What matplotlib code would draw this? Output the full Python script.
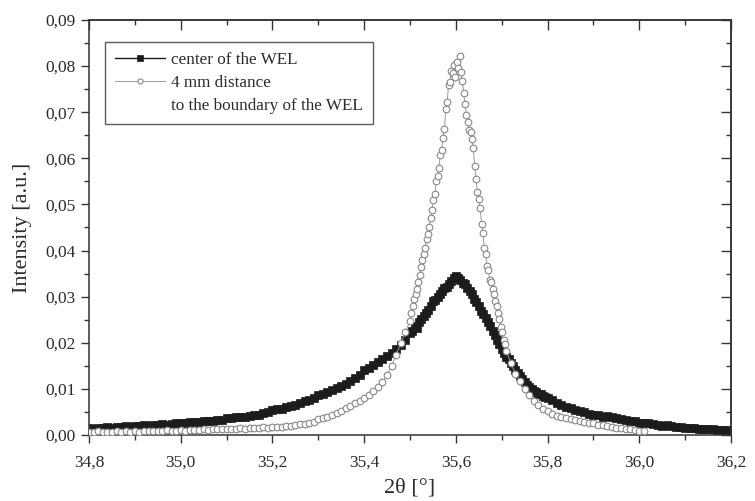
import numpy as np
import matplotlib
matplotlib.use("Agg")
import matplotlib.pyplot as plt
from matplotlib.ticker import MultipleLocator, FuncFormatter
from matplotlib.lines import Line2D

# ---------------- data (intensity values in units of 1e-4 a.u.) ----------------
# series 1: center of the WEL, sampled on three regular 2theta segments
center_seg = [(34.80, 0.01, 71), (35.505, 0.005, 60), (35.81, 0.01, 40)]
center_y = [
    15, 14, 16, 15, 17, 16, 18, 17, 19, 18,
    20, 19, 21, 20, 22, 21, 23, 22, 24, 25,
    27, 26, 28, 29, 28, 30, 31, 30, 33, 32,
    37, 36, 38, 40, 39, 42, 44, 43, 47, 49,
    54, 56, 57, 60, 63, 66, 69, 73, 76, 80,
    86, 89, 93, 97, 101, 106, 111, 117, 123, 131,
    140, 146, 151, 158, 164, 171, 178, 187, 196, 207,
    222,
    226, 236, 233, 246, 252, 258, 264, 271, 280, 290,
    292, 300, 306, 312, 318, 322, 328, 333, 340, 344,
    340, 336, 330, 327, 318, 312, 305, 296, 288, 279,
    270, 262, 253, 245, 236, 226, 216, 207, 197, 186,
    178, 170, 164, 156, 149, 141, 134, 127, 121, 114,
    108, 104, 100, 96, 93, 90, 88, 85, 82, 80,
    75, 70, 64, 61, 58, 55, 52, 50, 46, 44,
    43, 40, 41, 38, 36, 35, 33, 31, 30, 27,
    27, 25, 24, 22, 20, 21, 19, 17, 18, 16,
    15, 15, 13, 14, 12, 12, 11, 10, 10, 9,
]

# series 2: 4 mm distance to the boundary of the WEL
boundary_seg = [(34.80, 0.01, 71), (35.503, 0.003, 70), (35.72, 0.01, 30)]
boundary_y = [
    7, 6, 8, 7, 7, 6, 8, 7, 8, 7,
    8, 7, 9, 8, 8, 9, 8, 10, 9, 9,
    10, 9, 11, 10, 11, 12, 11, 12, 13, 12,
    13, 14, 13, 15, 14, 15, 16, 15, 17, 16,
    17, 18, 18, 20, 19, 22, 23, 24, 26, 29,
    34, 37, 40, 44, 48, 53, 58, 63, 69, 74,
    80, 87, 95, 104, 114, 130, 150, 174, 199, 224,
    248,
    265, 280, 294, 305, 316, 331, 346, 364, 380, 392,
    405, 425, 436, 452, 470, 487, 510, 522, 550, 561,
    580, 608, 618, 645, 663, 706, 722, 758, 765, 790,
    785, 802, 776, 810, 796, 822, 787, 768, 742, 718,
    694, 679, 661, 657, 641, 622, 583, 556, 527, 512,
    493, 457, 438, 406, 392, 366, 357, 336, 331, 316,
    305, 291, 280, 264, 252, 234, 224, 206, 197, 183,
    156, 133, 117, 99, 86, 74, 65, 57, 51, 46,
    42, 39, 37, 34, 32, 31, 29, 27, 25, 22,
    21, 19, 17, 16, 15, 13, 12, 11, 9, 8,
]

labels = ["center of the WEL", "4 mm distance", "to the boundary of the WEL"]
x_label = "2\u03b8 [\u00b0]"
y_label = "Intensity [a.u.]"


def grid(segs):
    return np.concatenate([s + d * np.arange(n) for s, d, n in segs])


cx = grid(center_seg)
cy = np.array(center_y) * 1e-4
bx = grid(boundary_seg)
by = np.array(boundary_y) * 1e-4

# ---------------- figure ----------------
plt.rcParams['font.family'] = ['Liberation Serif', 'DejaVu Serif']
txt = '#2b2b2b'
fig = plt.figure(figsize=(7.55, 5.01), dpi=100)
ax = fig.add_axes([89 / 755, 1 - 435 / 501, (731 - 89) / 755, (435 - 20) / 501])

l1, = ax.plot(cx, cy, '-', color='#1c1c1c', lw=1.0, marker='s', ms=5.6,
              mfc='#1c1c1c', mec='#1c1c1c', mew=0.5, zorder=2)
l2, = ax.plot(bx, by, '-', color='#9a9a9a', lw=0.7, marker='o', ms=4.8,
              mfc='white', mec='#888888', mew=0.8, zorder=3)

ax.set_xlim(34.8, 36.2)
ax.set_ylim(0.0, 0.09)

comma = lambda fmt: FuncFormatter(lambda v, p: (fmt % v).replace('.', ','))
ax.xaxis.set_major_locator(MultipleLocator(0.2))
ax.xaxis.set_minor_locator(MultipleLocator(0.1))
ax.yaxis.set_major_locator(MultipleLocator(0.01))
ax.yaxis.set_minor_locator(MultipleLocator(0.005))
ax.xaxis.set_major_formatter(comma('%.1f'))
ax.yaxis.set_major_formatter(comma('%.2f'))

ax.tick_params(which='both', direction='out', colors='#333333', labelcolor=txt,
               labelsize=12.5, width=1.0)
ax.tick_params(which='major', length=6)
ax.tick_params(which='minor', length=3.5)
ax.tick_params(axis='x', pad=8)

for sp in ax.spines.values():
    sp.set_color('#333333')
    sp.set_linewidth(1.1)

# inward ticks on top and right
top = ax.secondary_xaxis('top')
top.xaxis.set_major_locator(MultipleLocator(0.2))
top.xaxis.set_minor_locator(MultipleLocator(0.1))
top.tick_params(which='both', direction='in', labeltop=False, colors='#333333', width=1.0)
top.tick_params(which='major', length=7)
top.tick_params(which='minor', length=3.5)
right = ax.secondary_yaxis('right')
right.yaxis.set_major_locator(MultipleLocator(0.01))
right.yaxis.set_minor_locator(MultipleLocator(0.005))
right.tick_params(which='both', direction='in', labelright=False, colors='#333333', width=1.0)
right.tick_params(which='major', length=7)
right.tick_params(which='minor', length=3.5)
for s in (top, right):
    for sp in s.spines.values():
        sp.set_color('#333333')
        sp.set_linewidth(1.1)

ax.set_xlabel(x_label, fontsize=16, color=txt, labelpad=6)
ax.set_ylabel(y_label, fontsize=16, color=txt, labelpad=10)

blank = Line2D([], [], color='none')
leg = ax.legend([l1, l2, blank], labels, loc='upper left',
                bbox_to_anchor=(16 / 642, 1 - 22 / 415), borderaxespad=0,
                frameon=True, fancybox=False, edgecolor='#333333',
                fontsize=12.3, handlelength=2.9, handletextpad=0.35,
                labelspacing=0.4, borderpad=0.6, markerscale=0.75)
leg.get_frame().set_linewidth(1.0)
for t in leg.get_texts():
    t.set_color(txt)

fig.savefig('out.png', dpi=100)
